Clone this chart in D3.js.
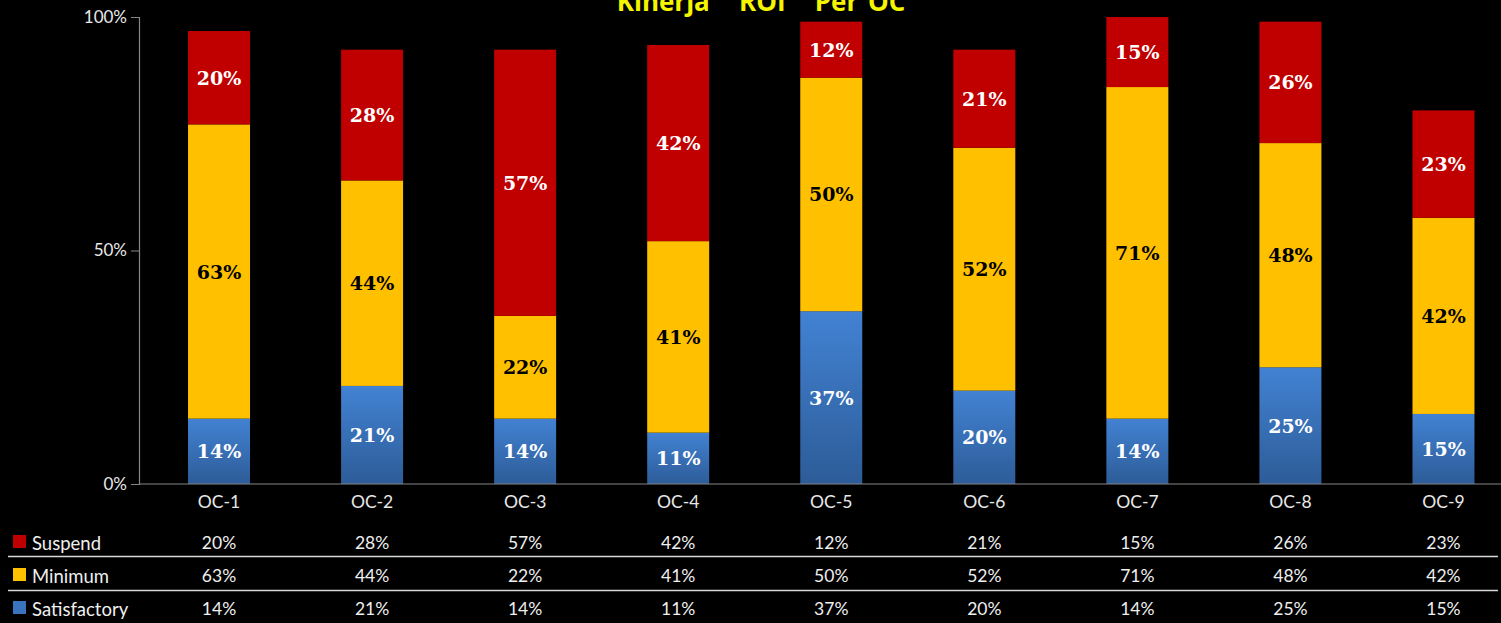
<!DOCTYPE html>
<html><head><meta charset="utf-8">
<script src="https://cdn.jsdelivr.net/npm/d3@7"></script>
<style>html,body{margin:0;padding:0;background:#000;overflow:hidden}</style>
</head><body>
<svg id="c" width="1501" height="623"></svg>
<script>
const categories = ["OC-1","OC-2","OC-3","OC-4","OC-5","OC-6","OC-7","OC-8","OC-9"];
const satisfactory = [14,21,14,11,37,20,14,25,15];
const minimum = [63,44,22,41,50,52,71,48,42];
const suspend = [20,28,57,42,12,21,15,26,23];
const yTicks = [0,50,100];
const seriesNames = ["Satisfactory","Minimum","Suspend"];
const title = "Kinerja   ROI   Per OC";

const svg = d3.select("#c");
const W = 1501, H = 623;
svg.append("rect").attr("width",W).attr("height",H).attr("fill","#000");

const x = d3.scaleBand().domain(categories).range([142.5, 1520]).paddingInner(0.595).paddingOuter(0.2975);
const y = d3.scaleLinear().domain([0,100]).range([484,17]);

const defs = svg.append("defs");
const g = defs.append("linearGradient").attr("id","blueG").attr("x1",0).attr("y1",0).attr("x2",0).attr("y2",1);
g.append("stop").attr("offset","0%").attr("stop-color","#4282D3");
g.append("stop").attr("offset","100%").attr("stop-color","#2D5C98");

const rows = categories.map((c,i)=>({cat:c, Satisfactory:satisfactory[i], Minimum:minimum[i], Suspend:suspend[i]}));
const stack = d3.stack().keys(seriesNames)(rows);
const fills = {Satisfactory:"url(#blueG)", Minimum:"#FFC000", Suspend:"#C00000"};
const labelColor = {Satisfactory:"#fff", Minimum:"#000", Suspend:"#fff"};

// title (cut off at top edge, as in the reference)
svg.append("text").attr("x",761).attr("y",11).attr("text-anchor","middle")
  .attr("font-family","'Open Sans',sans-serif").attr("font-weight","bold").attr("font-size",26)
  .attr("word-spacing",3)
  .attr("fill","#F5F500").attr("xml:space","preserve").style("white-space","pre").text(title);

// bars
stack.forEach(layer=>{
  const key = layer.key;
  const gl = svg.append("g");
  gl.selectAll("rect").data(layer).join("rect")
    .attr("x",d=>x(d.data.cat)).attr("width",x.bandwidth())
    .attr("y",d=>y(d[1])).attr("height",d=>y(d[0])-y(d[1]))
    .attr("fill",fills[key]);
  gl.selectAll("text").data(layer).join("text")
    .attr("x",d=>x(d.data.cat)+x.bandwidth()/2)
    .attr("y",d=>(y(d[0])+y(d[1]))/2+7)
    .attr("text-anchor","middle")
    .attr("font-family","'DejaVu Serif',serif").attr("font-weight","bold").attr("font-size",19)
    .attr("fill",labelColor[key])
    .text(d=>(d[1]-d[0])+"%");
});

// y axis
const ya = svg.append("g").attr("transform","translate(139,0)")
  .call(d3.axisLeft(y).tickValues(yTicks).tickSize(8).tickPadding(4).tickFormat(d=>d+"%"));
ya.select(".domain").attr("stroke","#868686").attr("stroke-width",1.2);
ya.selectAll(".tick line").attr("stroke","#868686");
ya.selectAll(".tick text").attr("fill","#e8e8e8").attr("font-size",17).attr("font-family","Lato, 'Open Sans', sans-serif");

// x axis
const xa = svg.append("g").attr("transform","translate(0,484)")
  .call(d3.axisBottom(x).tickSize(0).tickPadding(12));
xa.select(".domain").attr("stroke","#868686").attr("stroke-width",1.2).attr("d","M139,0H1501");
xa.selectAll(".tick text").attr("fill","#e8e8e8").attr("font-size",17.5).attr("font-family","Lato, 'Open Sans', sans-serif");

// data table
const tableRows = [
  {name:"Suspend", vals:suspend, color:"#C00000", y:543},
  {name:"Minimum", vals:minimum, color:"#FFC000", y:576},
  {name:"Satisfactory", vals:satisfactory, color:"#3A74BE", y:609}
];
[556.5, 590.5].forEach(ly=>{
  svg.append("line").attr("x1",8).attr("x2",1498).attr("y1",ly).attr("y2",ly).attr("stroke","#d8d8d8").attr("stroke-width",1.3);
});
tableRows.forEach(r=>{
  svg.append("rect").attr("x",13).attr("y",r.y-8).attr("width",13).attr("height",13).attr("fill",r.color);
  svg.append("text").attr("x",32).attr("y",r.y+1).attr("dy","0.35em")
    .attr("font-family","Lato, 'Open Sans', sans-serif").attr("font-size",18.5).attr("fill","#efefef").text(r.name);
  svg.append("g").selectAll("text").data(r.vals).join("text")
    .attr("x",(d,i)=>x(categories[i])+x.bandwidth()/2).attr("y",r.y).attr("dy","0.35em")
    .attr("text-anchor","middle").attr("font-family","Lato, 'Open Sans', sans-serif").attr("font-size",17.5).attr("fill","#efefef")
    .text(d=>d+"%");
});
</script>
</body></html>
